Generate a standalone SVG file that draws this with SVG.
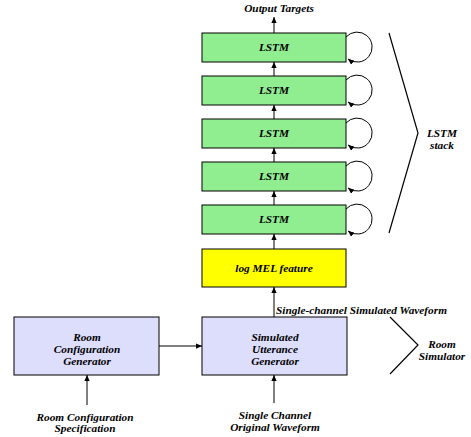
<svg xmlns="http://www.w3.org/2000/svg" width="471" height="437" viewBox="0 0 471 437">
<defs>
<style>
text{font-family:"Liberation Serif","Times New Roman",serif;font-weight:bold;font-style:italic;font-size:11.3px;fill:#000;text-anchor:middle}
.lstm{fill:#90ee90;stroke:#000;stroke-width:1}
.yel{fill:#ffff00;stroke:#000;stroke-width:1}
.lav{fill:#ddddfc;stroke:#000;stroke-width:1}
.c{fill:none;stroke:#000;stroke-width:1}
.b{fill:none;stroke:#000;stroke-width:1.2}
</style>
<marker id="ah" viewBox="0 0 8 8" refX="8" refY="4" markerWidth="6" markerHeight="6" orient="auto" markerUnits="userSpaceOnUse">
<path d="M0,0.5 L8,4 L0,7.5 Z" fill="#000"/>
</marker>
</defs>
<rect width="471" height="437" fill="#fff"/>
<text x="279" y="12">Output Targets</text>
<g id="lstm1"><rect class="lstm" x="202" y="33" width="144" height="29"/><text x="274" y="51">LSTM</text></g>
<g id="lstm2"><rect class="lstm" x="202" y="76" width="144" height="29"/><text x="274" y="94">LSTM</text></g>
<g id="lstm3"><rect class="lstm" x="202" y="119" width="144" height="29"/><text x="274" y="137">LSTM</text></g>
<g id="lstm4"><rect class="lstm" x="202" y="162" width="144" height="29"/><text x="274" y="180">LSTM</text></g>
<g id="lstm5"><rect class="lstm" x="202" y="205" width="144" height="29"/><text x="274" y="223">LSTM</text></g>
<g id="logmel"><rect class="yel" x="202" y="249" width="144" height="38"/><text x="274" y="272">log MEL feature</text></g>
<g id="simgen"><rect class="lav" x="202" y="317" width="145" height="58"/><text x="275" y="341">Simulated</text><text x="275" y="353">Utterance</text><text x="275" y="365">Generator</text></g>
<g id="roomgen"><rect class="lav" x="14" y="317" width="145" height="58"/><text x="87" y="341">Room</text><text x="87" y="353">Configuration</text><text x="87" y="365">Generator</text></g>
<g id="labels">
<text x="276" y="314" style="text-anchor:start">Single-channel Simulated Waveform</text>
<text x="85" y="421">Room Configuration</text>
<text x="85" y="432">Specification</text>
<text x="275" y="419">Single Channel</text>
<text x="275" y="431">Original Waveform</text>
<text x="442" y="348">Room</text>
<text x="442" y="360">Simulator</text>
<text x="442" y="137">LSTM</text>
<text x="442" y="149">stack</text>
</g>
<g id="connectors">
<line class="c" x1="274" y1="33" x2="274" y2="17" marker-end="url(#ah)"/>
<line class="c" x1="274" y1="76" x2="274" y2="62" marker-end="url(#ah)"/>
<line class="c" x1="274" y1="119" x2="274" y2="105" marker-end="url(#ah)"/>
<line class="c" x1="274" y1="162" x2="274" y2="148" marker-end="url(#ah)"/>
<line class="c" x1="274" y1="205" x2="274" y2="191" marker-end="url(#ah)"/>
<line class="c" x1="274" y1="249" x2="274" y2="234" marker-end="url(#ah)"/>
<line class="c" x1="274" y1="317" x2="274" y2="287" marker-end="url(#ah)"/>
<line class="c" x1="159" y1="346" x2="202" y2="346" marker-end="url(#ah)"/>
<line class="c" x1="87" y1="405" x2="87" y2="375" marker-end="url(#ah)"/>
<line class="c" x1="274" y1="403" x2="274" y2="375" marker-end="url(#ah)"/>
<path class="c" d="M346,37 A15,15 0 1 1 348,59" marker-end="url(#ah)"/>
<path class="c" d="M346,80 A15,15 0 1 1 348,102" marker-end="url(#ah)"/>
<path class="c" d="M346,123 A15,15 0 1 1 348,145" marker-end="url(#ah)"/>
<path class="c" d="M346,166 A15,15 0 1 1 348,188" marker-end="url(#ah)"/>
<path class="c" d="M346,209 A15,15 0 1 1 348,231" marker-end="url(#ah)"/>
</g>
<g id="brackets">
<polyline class="b" points="389,33 418,133 389,233"/>
<polyline class="b" points="390,317 418,345 390,374"/>
</g>
</svg>
